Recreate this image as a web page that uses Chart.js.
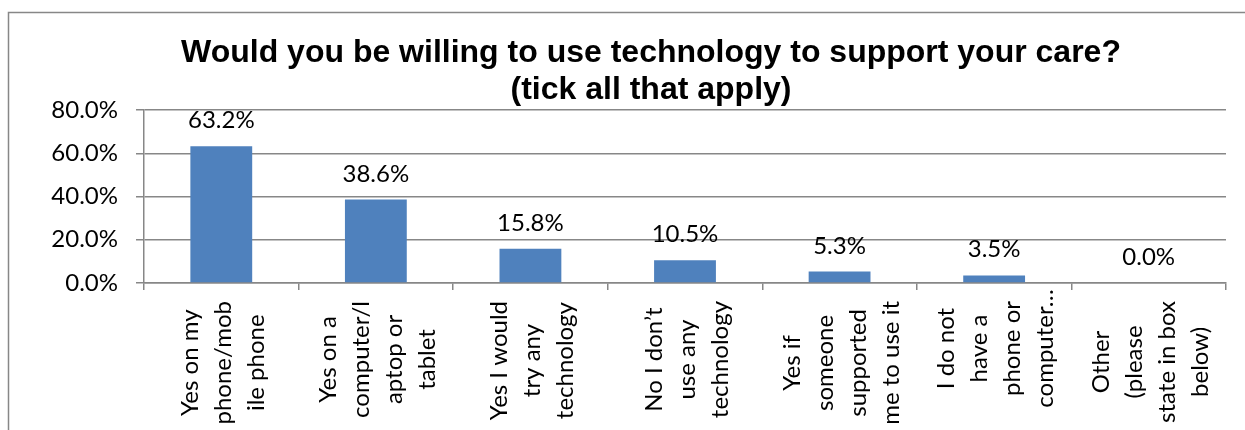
<!DOCTYPE html>
<html>
<head>
<meta charset="utf-8">
<title>Willingness to use technology</title>
<script src="https://cdn.jsdelivr.net/npm/chart.js@4.4.0/dist/chart.umd.min.js"></script>
<style>
  body { margin: 0; background: #fff; }
  canvas { display: block; }
</style>
</head>
<body>
<canvas id="tech-chart" width="1245" height="430"></canvas>
<script>
// Survey answers, each label split into its wrapped lines
const categories = [
    ['Yes on my', 'phone/mob', 'ile phone'],
    ['Yes on a', 'computer/l', 'aptop or', 'tablet'],
    ['Yes I would', 'try any', 'technology'],
    ['No I don\u2019t', 'use any', 'technology'],
    ['Yes if', 'someone', 'supported', 'me to use it'],
    ['I do not', 'have a', 'phone or', 'computer\u2026'],
    ['Other', '(please', 'state in box', 'below)']
];
const percentages = [63.2, 38.6, 15.8, 10.5, 5.3, 3.5, 0.0];
const titleLines = [
    'Would you be willing to use technology to support your care?',
    '(tick all that apply)'
];
const yMax = 80;
const yStep = 20;

const GRID = '#878787';
const BAR = '#4F81BD';
const LABEL_FONT = '24px Lato';

// Outer frame (only left and top edges are in view)
const framePlugin = {
    id: 'frame',
    beforeDraw(chart) {
        const ctx = chart.ctx;
        ctx.save();
        ctx.strokeStyle = GRID;
        ctx.lineWidth = 1.5;
        ctx.beginPath();
        ctx.moveTo(8.5, chart.height);
        ctx.lineTo(8.5, 12.5);
        ctx.lineTo(chart.width, 12.5);
        ctx.stroke();
        ctx.restore();
    }
};

// Two-line bold heading, centred a little left of the plot centre
const headingPlugin = {
    id: 'heading',
    afterDraw(chart) {
        const ctx = chart.ctx;
        ctx.save();
        ctx.font = 'bold 32px "Liberation Sans"';
        ctx.fillStyle = '#000';
        ctx.textAlign = 'center';
        ctx.textBaseline = 'alphabetic';
        titleLines.forEach((line, i) => {
            ctx.fillText(line, 651, 62 + i * 37);
        });
        ctx.restore();
    }
};

// Value labels above each bar
const valueLabels = {
    id: 'valueLabels',
    afterDatasetsDraw(chart) {
        const ctx = chart.ctx;
        const meta = chart.getDatasetMeta(0);
        ctx.save();
        ctx.font = LABEL_FONT;
        ctx.fillStyle = '#000';
        ctx.textAlign = 'center';
        ctx.textBaseline = 'alphabetic';
        meta.data.forEach((bar, i) => {
            ctx.fillText(percentages[i].toFixed(1) + '%', bar.x, bar.y - 18);
        });
        ctx.restore();
    }
};

// Rotated category labels, lines centred on each other, running off the bottom
const categoryLabels = {
    id: 'categoryLabels',
    afterDraw(chart) {
        const ctx = chart.ctx;
        const xScale = chart.scales.x;
        const lineGap = 33;
        ctx.save();
        ctx.font = LABEL_FONT;
        ctx.fillStyle = '#000';
        ctx.textAlign = 'center';
        ctx.textBaseline = 'middle';
        categories.forEach((lines, i) => {
            const cx = xScale.getPixelForValue(i) + 2;
            // truncated lines (ending in an ellipsis) overflow the block
            const widths = lines.filter(l => !l.endsWith('\u2026')).map(l => ctx.measureText(l).width);
            const cy = xScale.top + 18 + Math.max(...widths) / 2;
            lines.forEach((line, j) => {
                ctx.save();
                ctx.translate(cx + (j - (lines.length - 1) / 2) * lineGap, cy);
                ctx.rotate(-Math.PI / 2);
                ctx.fillText(line, 0, 0);
                ctx.restore();
            });
        });
        ctx.restore();
    }
};

const ctx = document.getElementById('tech-chart').getContext('2d');
const techChart = new Chart(ctx, {
    type: 'bar',
    data: {
        labels: categories,
        datasets: [{
            data: percentages,
            backgroundColor: BAR,
            barPercentage: 0.4,
            categoryPercentage: 1
        }]
    },
    options: {
        responsive: false,
        animation: false,
        layout: {
            padding: { left: 0, right: 19, top: 110, bottom: 0 }
        },
        plugins: {
            legend: { display: false },
            tooltip: { enabled: false },
            title: { display: false }
        },
        scales: {
            x: {
                grid: { offset: true, drawOnChartArea: false, color: GRID, lineWidth: 1.5, tickLength: 7 },
                border: { color: GRID, width: 1.5 },
                ticks: { display: false },
                afterFit(scale) { scale.height = 147; }
            },
            y: {
                min: 0,
                max: yMax,
                ticks: {
                    stepSize: yStep,
                    color: '#000',
                    font: { family: 'Lato', size: 24 },
                    padding: 18,
                    callback: v => v.toFixed(1) + '%'
                },
                grid: { color: GRID, lineWidth: 1.5, tickLength: 8 },
                border: { color: GRID, width: 1.5 },
                afterFit(scale) { scale.width = 144; }
            }
        }
    },
    plugins: [framePlugin, headingPlugin, valueLabels, categoryLabels]
});
</script>
</body>
</html>
